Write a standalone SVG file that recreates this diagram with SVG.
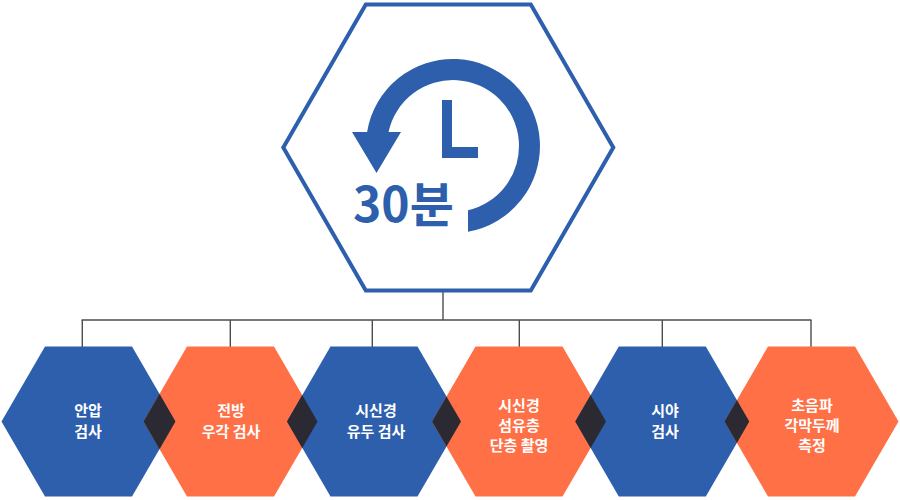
<svg xmlns="http://www.w3.org/2000/svg" width="900" height="500" viewBox="0 0 900 500">
  <style>
    .blue { fill: #2d5fad; }
    .orange { fill: #ff7047; }
    .overlap { fill: #2b2a33; }
    .lbl { font-family: "Noto Sans CJK KR", "Noto Sans", sans-serif; font-weight: 700; font-size: 15px; fill: #ffffff; text-anchor: middle; }
    .conn { stroke: #4d4d4d; stroke-width: 1.4; fill: none; }
  </style>
  <defs>
    <polygon id="hex" points="-87,0 -43.5,-75 43.5,-75 87,0 43.5,75 -43.5,75"/>
  </defs>
  <rect width="900" height="500" fill="#ffffff"/>

  <g id="connectors">
    <line class="conn" x1="443" y1="292" x2="443" y2="320" stroke-width="2.2"/>
    <line class="conn" x1="81.5" y1="320" x2="811.5" y2="320"/>
    <line class="conn" x1="82.3" y1="320" x2="82.3" y2="347"/>
    <line class="conn" x1="230.3" y1="320" x2="230.3" y2="347"/>
    <line class="conn" x1="372.3" y1="320" x2="372.3" y2="347"/>
    <line class="conn" x1="519.3" y1="320" x2="519.3" y2="347"/>
    <line class="conn" x1="662.3" y1="320" x2="662.3" y2="347"/>
    <line class="conn" x1="811" y1="320" x2="811" y2="347"/>
  </g>

  <g id="main">
    <polygon points="283.3,147.5 365.8,4.5 530.8,4.5 613.3,147.5 530.8,290.5 365.8,290.5" fill="#ffffff" stroke="#2d5fad" stroke-width="4"/>
    <path class="blue" d="M468,231.7 A87,87 0 1 0 367.1,132 L388.5,132 A66,66 0 1 1 468,210.3 Z"/>
    <polygon class="blue" points="352,132 401,132 376.5,173"/>
    <path class="blue" d="M442,100 h10 v47 h26 v11 h-36 Z"/>
    <text x="353" y="222" font-family="'Noto Sans CJK KR', 'Noto Sans', sans-serif" font-weight="700" font-size="48" fill="#2d5fad">30분</text>
  </g>

  <g id="node1">
    <use href="#hex" class="blue" x="88.5" y="421.5"/>
    <text class="lbl" x="88" y="416">안압</text>
    <text class="lbl" x="88" y="436.5">검사</text>
  </g>
  <g id="node2">
    <use href="#hex" class="orange" x="230.5" y="421.5"/>
    <text class="lbl" x="231" y="416">전방</text>
    <text class="lbl" x="231" y="436.5">우각 검사</text>
  </g>
  <g id="node3">
    <use href="#hex" class="blue" x="374" y="421.5"/>
    <text class="lbl" x="376" y="416">시신경</text>
    <text class="lbl" x="376" y="436.5">유두 검사</text>
  </g>
  <g id="node4">
    <use href="#hex" class="orange" x="519" y="421.5"/>
    <text class="lbl" x="519" y="410.5">시신경</text>
    <text class="lbl" x="519" y="430.5">섬유층</text>
    <text class="lbl" x="519" y="450.5">단층 촬영</text>
  </g>
  <g id="node5">
    <use href="#hex" class="blue" x="662.3" y="421.5"/>
    <text class="lbl" x="665" y="416">시야</text>
    <text class="lbl" x="665" y="436.5">검사</text>
  </g>
  <g id="node6">
    <use href="#hex" class="orange" x="811.5" y="421.5"/>
    <text class="lbl" x="812" y="410.5">초음파</text>
    <text class="lbl" x="812" y="430.5">각막두께</text>
    <text class="lbl" x="812" y="450.5">측정</text>
  </g>

  <g id="overlaps">
    <polygon class="overlap" points="143.5,421.5 159.5,393.8 175.5,421.5 159.5,449.2"/>
    <polygon class="overlap" points="287,421.5 302.25,395.1 317.5,421.5 302.25,447.9"/>
    <polygon class="overlap" points="432,421.5 446.5,396.4 461,421.5 446.5,446.6"/>
    <polygon class="overlap" points="575.3,421.5 590.65,394.9 606,421.5 590.65,448.1"/>
    <polygon class="overlap" points="724.5,421.5 736.9,400 749.3,421.5 736.9,443"/>
  </g>
</svg>
